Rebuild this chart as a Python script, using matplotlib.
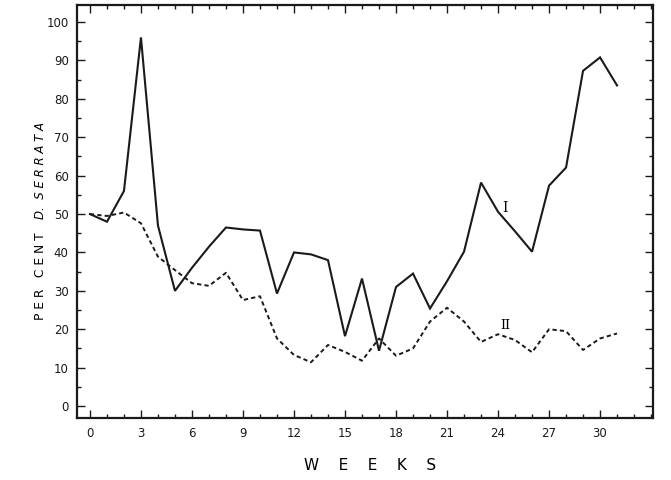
import numpy as np
import matplotlib
matplotlib.use('Agg')
import matplotlib.pyplot as plt
from matplotlib.ticker import MultipleLocator

# --- data ---
weeks = list(range(32))
series_i = [50, 48, 56, 96, 47, 30, 36, 41.5, 46.5, 46, 45.7, 29.3,
            40, 39.5, 38, 18.2, 33.2, 14.4, 31, 34.5, 25.4, 32.5, 40.2,
            58.2, 50.6, 45.5, 40.2, 57.4, 62.1, 87.3, 90.8, 83.5]
series_ii = [50, 49.5, 50.4, 47.6, 38.9, 35.4, 32, 31.3, 34.7, 27.6, 28.6,
             17.6, 13.3, 11.4, 15.9, 14.1, 11.8, 17.6, 13.1, 15, 22, 25.6,
             22, 16.7, 18.7, 17.2, 14, 20, 19.5, 14.6, 17.6, 18.9]
xtick_vals = list(range(0, 31, 3))
ytick_vals = list(range(0, 101, 10))

fig = plt.figure(figsize=(6.71, 4.8), dpi=100)
ax = fig.add_axes([0.1148, 0.1285, 0.858, 0.8615])

ax.plot(weeks, series_i, color='#1a1a1a', lw=1.5, solid_joinstyle='miter')
ax.plot(weeks, series_ii, color='#1a1a1a', lw=1.4, linestyle=(0, (2.2, 1.6)))

ax.set_xlim(-0.76, 33.1)
ax.set_ylim(-3.2, 104.5)

ax.set_xticks(xtick_vals)
ax.set_yticks(ytick_vals)
ax.xaxis.set_minor_locator(MultipleLocator(1))
ax.yaxis.set_minor_locator(MultipleLocator(5))
ax.tick_params(which='both', direction='in', top=True, right=True,
               colors='#1a1a1a', width=1.0, labelsize=8.5, pad=6)
ax.tick_params(which='major', length=6)
ax.tick_params(which='minor', length=3)
for s in ax.spines.values():
    s.set_linewidth(1.6)
    s.set_color('#1a1a1a')

# curve labels
ax.text(24.4, 51.5, 'I', family='DejaVu Serif', fontsize=10, ha='center', va='center')
ax.text(24.4, 21, 'II', family='DejaVu Serif', fontsize=9, ha='center', va='center')

# axis titles
fig.text(0.551, 0.031, 'W    E    E    K    S', fontsize=11, ha='center', va='center')
fig.text(0.06, 0.425, 'P E R   C E N T', fontsize=8.8, rotation=90, ha='center', va='center')
fig.text(0.06, 0.645, 'D.  S E R R A T A', fontsize=8.5, rotation=90, ha='center',
         va='center', style='italic')

plt.savefig('out.png', dpi=100)
